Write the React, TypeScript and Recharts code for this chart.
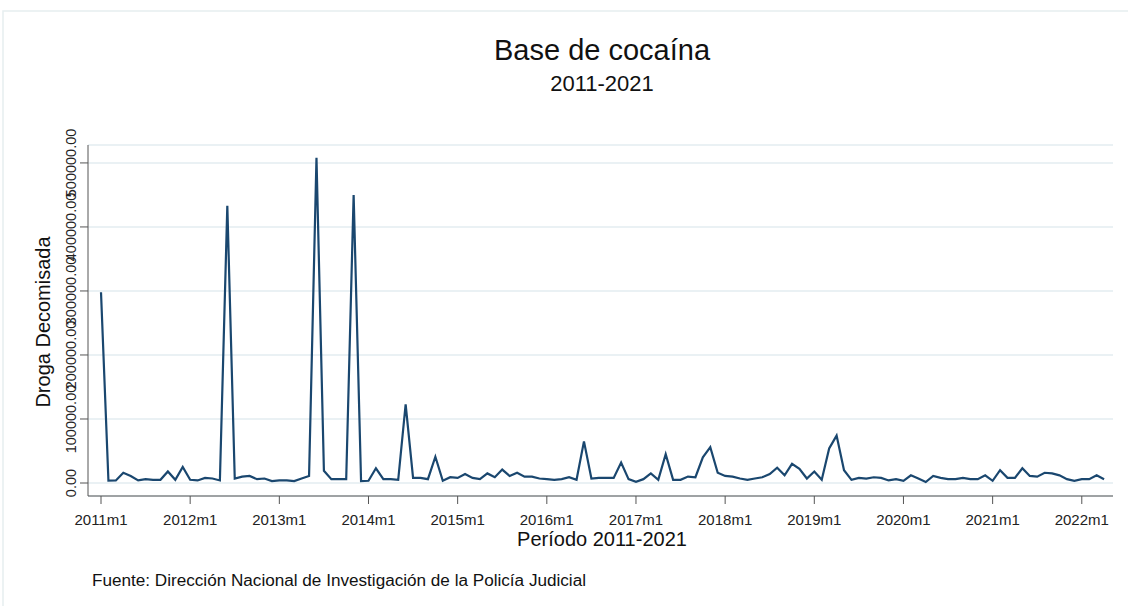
import { LineChart, Line, XAxis, YAxis, CartesianGrid } from "recharts";

// monthly seizures, 2011m1 .. 2022m4
const seizures = [
  298000, 3600, 4000, 16000, 11000, 4000, 6000, 5000, 5000, 18000, 5000, 25000,
  5000, 4000, 8000, 7000, 4000, 433000, 7000, 10000, 11000, 6000, 7000, 3000,
  4000, 4000, 3000, 7000, 11000, 508000, 19000, 6000, 6000, 6000, 450000, 3000,
  3500, 23000, 6000, 6000, 5000, 123000, 8000, 8000, 6000, 41000, 3500, 9000,
  8000, 14000, 8000, 6000, 15000, 9000, 21000, 11000, 16000, 10000, 10000, 7000,
  6000, 5000, 6000, 9000, 5000, 65000, 7000, 8000, 8000, 8000, 32000, 6000,
  2000, 6000, 15000, 5000, 45000, 5000, 5000, 10000, 9000, 40000, 56000, 16000,
  11000, 10000, 7000, 5000, 7000, 9000, 14000, 24000, 12000, 30000, 22000, 7000,
  18000, 5000, 54000, 74000, 20000, 5000, 8000, 7000, 9000, 8000, 4000, 6000,
  3500, 12000, 7000, 1500, 11000, 8000, 6000, 6000, 8000, 6000, 6000, 12000,
  3500, 20000, 8000, 8000, 23000, 11000, 10000, 16000, 15000, 12000, 6000, 3500,
  6000, 6000, 12000, 6000,
];

const yearTicks = [
  "2011m1", "2012m1", "2013m1", "2014m1", "2015m1", "2016m1",
  "2017m1", "2018m1", "2019m1", "2020m1", "2021m1", "2022m1",
];

const yTicks = [0, 100000, 200000, 300000, 400000, 500000];

const data = seizures.map((v, i) => ({ t: i, value: v }));

const FONT = '"Liberation Sans", Arial, Helvetica, sans-serif';

const RotatedTick = ({ x, y, payload }: any) => (
  <text
    x={x}
    y={y}
    transform={`rotate(-90, ${x}, ${y})`}
    textAnchor="middle"
    fontSize={14.5}
    fontFamily={FONT}
    fill="#222"
  >
    {Number(payload.value).toFixed(2)}
  </text>
);

export default function App() {
  return (
    <div style={{ position: "absolute", left: 0, top: 0, width: 1128, height: 606, background: "#fff" }}>
      <LineChart
        width={1128}
        height={606}
        data={data}
        margin={{ top: 145, right: 15, bottom: 80, left: 28 }}
      >
        <CartesianGrid vertical={false} stroke="#e3edf1" strokeWidth={1.5} />
        <XAxis
          dataKey="t"
          type="number"
          domain={[-1.75, 136.2]}
          ticks={yearTicks.map((_, i) => i * 12)}
          tickFormatter={(v: number) => yearTicks[Math.round(v / 12)]}
          height={30}
          tickSize={8}
          tickMargin={10}
          stroke="#555"
          tick={{ fill: "#222", fontSize: 15, fontFamily: FONT }}
          allowDataOverflow
        />
        <YAxis
          type="number"
          domain={[-20300, 528000]}
          ticks={yTicks}
          width={60}
          tickSize={8}
          tickMargin={4}
          stroke="#555"
          tick={<RotatedTick />}
          allowDataOverflow
        />
        <Line
          type="linear"
          dataKey="value"
          stroke="#1a476f"
          strokeWidth={2.2}
          dot={false}
          isAnimationActive={false}
        />
      </LineChart>
      <svg
        width={1128}
        height={606}
        style={{ position: "absolute", left: 0, top: 0, pointerEvents: "none" }}
        fontFamily={FONT}
      >
        <rect x={3} y={11} width={1140} height={610} fill="none" stroke="#e6eef0" strokeWidth={1.5} />
        <text x={602} y={60} textAnchor="middle" fontSize={29} fill="#111">
          Base de cocaína
        </text>
        <text x={602} y={91} textAnchor="middle" fontSize={22} fill="#111">
          2011-2021
        </text>
        <text
          x={50}
          y={322}
          transform="rotate(-90, 50, 322)"
          textAnchor="middle"
          fontSize={20}
          fill="#111"
        >
          Droga Decomisada
        </text>
        <text x={602} y={546} textAnchor="middle" fontSize={20} fill="#111">
          Período 2011-2021
        </text>
        <text x={92} y={586} fontSize={16} fill="#111" textLength={494} lengthAdjust="spacingAndGlyphs">
          Fuente: Dirección Nacional de Investigación de la Policía Judicial
        </text>
      </svg>
    </div>
  );
}
